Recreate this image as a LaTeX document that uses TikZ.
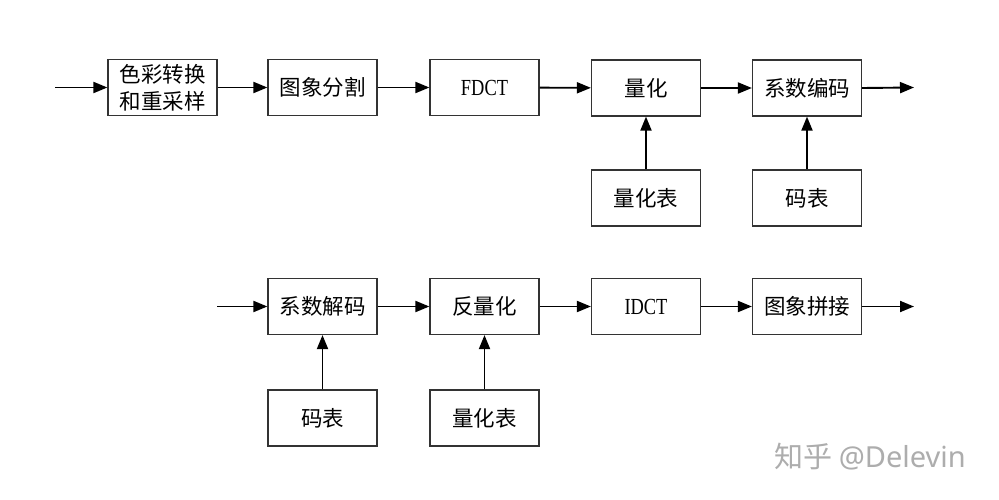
\documentclass[tikz,border=0pt]{standalone}
\usepackage{fontspec}
\setmainfont{Liberation Serif}
\newfontfamily\cjk{Noto Sans CJK SC}
\newfontfamily\marksans{Noto Sans}
\usetikzlibrary{arrows.meta}
\newcommand{\lat}[1]{\scalebox{0.8}[1]{\fontsize{23}{26}\selectfont\rmfamily #1}}
\begin{document}
\begin{tikzpicture}[x=1pt,y=-1pt,
  blk/.style={draw=black!80, line width=1.2pt, minimum width=109pt, minimum height=56pt,
    inner sep=0pt, align=center, font=\cjk\fontsize{21.5}{27}\selectfont},
  arr/.style={-{Triangle[length=14pt,width=11pt]}, line width=1.9pt},
  mark text/.style={text=black!32, font=\cjk\fontsize{29}{32}\selectfont}]
\useasboundingbox[fill=white] (0,0) rectangle (999,500);
% row 1
\node[blk] (c1) at (162.5,87.5) {色彩转换\\和重采样};
\node[blk] (c2) at (322.5,87.5) {图象分割};
\node[blk] (c3) at (484.5,87.5) {\lat{FDCT}};
\node[blk] (c4) at (646,88) {量化};
\node[blk] (c5) at (807,88) {系数编码};
\node[blk] (t4) at (646,198) {量化表};
\node[blk] (t5) at (807,198) {码表};
\coordinate (in1) at (55,87.5);
\coordinate (out1) at (914,87.5);
\draw[arr] (in1) -- (c1.west);
\draw[arr] (c1) -- (c2);
\draw[arr] (c2) -- (c3);
\draw[arr] (c3) -- (c4);
\draw[arr] (c4) -- (c5);
\draw[arr] (c5.east) -- (out1);
\draw[arr] (t4) -- (c4);
\draw[arr] (t5) -- (c5);
% row 2
\node[blk] (d1) at (322.5,306.5) {系数解码};
\node[blk] (d2) at (484.5,306.5) {反量化};
\node[blk] (d3) at (646,306.5) {\lat{IDCT}};
\node[blk] (d4) at (807,306.5) {图象拼接};
\node[blk] (e1) at (322.5,418) {码表};
\node[blk] (e2) at (484.5,418) {量化表};
\coordinate (in2) at (217,306.5);
\coordinate (out2) at (914,306.5);
\draw[arr] (in2) -- (d1.west);
\draw[arr] (d1) -- (d2);
\draw[arr] (d2) -- (d3);
\draw[arr] (d3) -- (d4);
\draw[arr] (d4.east) -- (out2);
\draw[arr] (e1) -- (d1);
\draw[arr] (e2) -- (d2);
% watermark
\node[mark text] (wm) at (870,457) {知乎 {\marksans @Delevin}};
\end{tikzpicture}
\end{document}
